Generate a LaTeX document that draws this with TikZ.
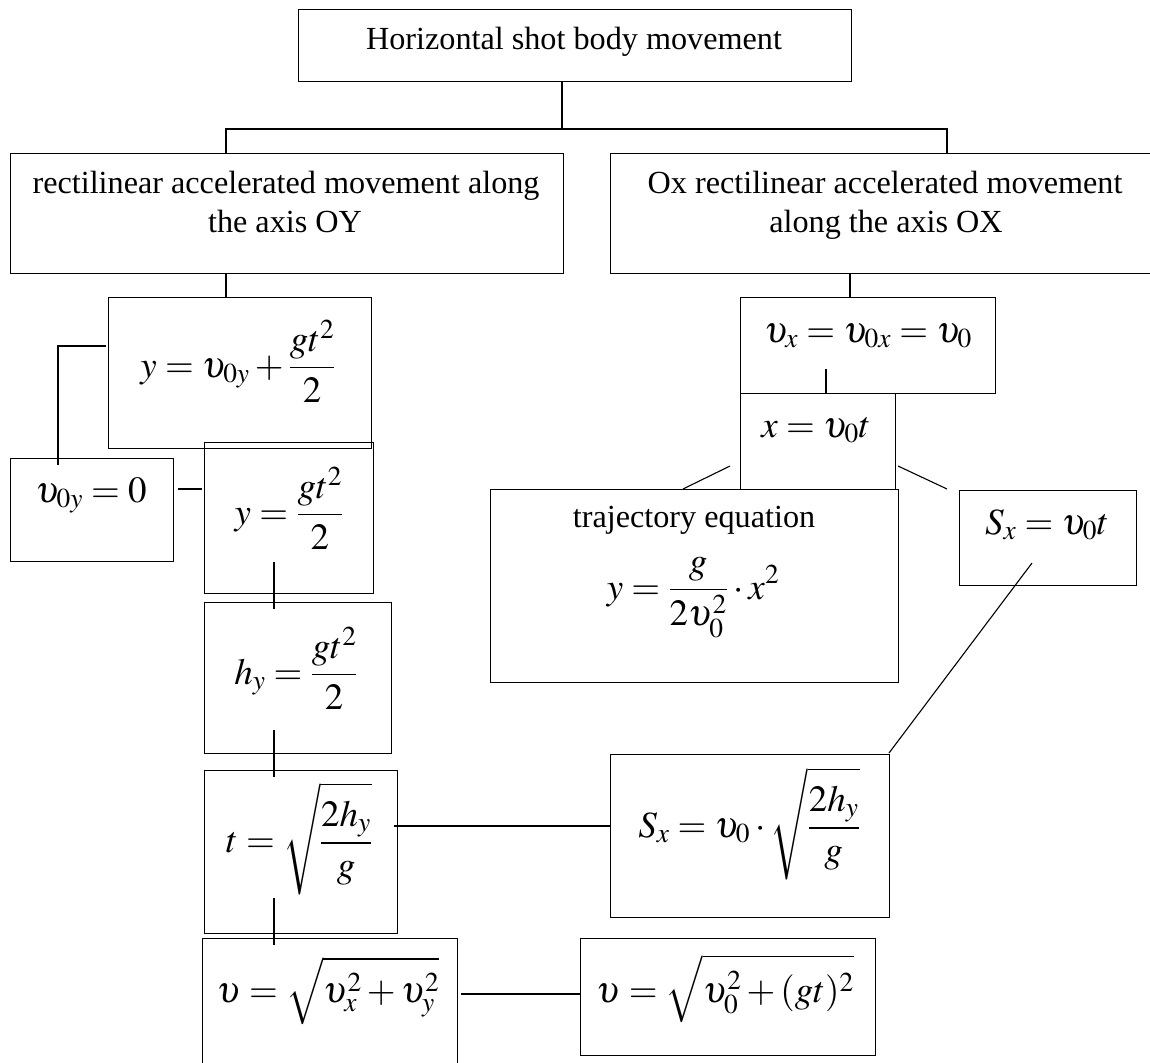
\documentclass[tikz,border=0pt]{standalone}
\usepackage{mathptmx}
\usepackage{fontspec}
\setmainfont{Liberation Serif}
\tikzset{
  box/.style={draw, line width=1.4pt, anchor=north west, inner sep=0pt},
  link/.style={line width=1.1pt},
  txt/.style={anchor=base, inner sep=0pt, font=\fontsize{32.2}{39}\selectfont},
  eq/.style={anchor=base, inner sep=0pt, font=\fontsize{37}{44}\selectfont},
}
\begin{document}
\begin{tikzpicture}[x=1pt,y=-1pt]
\useasboundingbox (0,0) rectangle (1150,1062);
\fill[white] (0,0) rectangle (1150,1062);

% boxes
\node[box, minimum width=553pt, minimum height=72pt]  (top) at (298,9) {};
\node[box, minimum width=553pt, minimum height=120pt] (L)   at (10,153) {};
\node[box, minimum width=552pt, minimum height=120pt] (R)   at (610,153) {};
\node[box, minimum width=263pt, minimum height=151pt] (A)   at (108,297) {};
\node[box, minimum width=163pt, minimum height=103pt] (B)   at (10,458) {};
\node[box, minimum width=169pt, minimum height=151pt] (C)   at (204,442) {};
\node[box, minimum width=187pt, minimum height=151pt] (D)   at (204,602) {};
\node[box, minimum width=193pt, minimum height=163pt] (E)   at (204,770) {};
\node[box, minimum width=255pt, minimum height=137pt] (F)   at (202,938) {};
\node[box, minimum width=255pt, minimum height=96pt]  (G)   at (740,297) {};
\node[box, minimum width=155pt, minimum height=96pt]  (H)   at (740,393) {};
\node[box, minimum width=408pt, minimum height=193pt] (I)   at (490,489) {};
\node[box, minimum width=177pt, minimum height=95pt]  (J)   at (959,490) {};
\node[box, minimum width=279pt, minimum height=163pt] (K)   at (610,754) {};
\node[box, minimum width=295pt, minimum height=117pt] (M)   at (580,938) {};

% texts
\node[txt] (ttop) at (574,50) {Horizontal shot body movement};
\node[txt] (tL1) at (286,193) {rectilinear accelerated movement along};
\node[txt] (tL2) at (285,232) {the axis OY};
\node[txt] (tR1) at (885,193) {Ox rectilinear accelerated movement};
\node[txt] (tR2) at (886,232) {along the axis OX};
\node[txt] (tI) at (694,527) {trajectory equation};

% formulas
\node[eq] (fA) at (238,377) {$\displaystyle y=\upsilon_{0y}+\frac{gt^2}{2}$};
\node[eq] (fB) at (91,502) {$\displaystyle \upsilon_{0y}=0$};
\node[eq] (fC) at (289,524) {$\displaystyle y=\frac{gt^2}{2}$};
\node[eq] (fD) at (296,684) {$\displaystyle h_y=\frac{gt^2}{2}$};
\node[eq] (fE) at (299,852) {$\displaystyle t=\sqrt{\frac{2h_y}{g}}$};
\node[eq] (fF) at (328,1002) {$\displaystyle \upsilon=\sqrt{\upsilon_x^2+\upsilon_y^2}$};
\node[eq] (fG) at (868,342) {$\displaystyle \upsilon_x=\upsilon_{0x}=\upsilon_0$};
\node[eq] (fH) at (816,437) {$\displaystyle x=\upsilon_0 t$};
\node[eq] (fI) at (693,599) {$\displaystyle y=\frac{g}{2\upsilon_0^2}\cdot x^2$};
\node[eq] (fJ) at (1047,534) {$\displaystyle S_x=\upsilon_0 t$};
\node[eq] (fK) at (749,837) {$\displaystyle S_x=\upsilon_0\cdot\sqrt{\frac{2h_y}{g}}$};
\node[eq] (fM) at (725,1002) {$\displaystyle \upsilon=\sqrt{\upsilon_0^2+(gt)^2}$};

% connector coordinates
\coordinate (j1) at (562,129);
\coordinate (jL) at (226,129);
\coordinate (jR) at (947,129);
\coordinate (xR) at (850,0);
\coordinate (xG) at (826,369);
\coordinate (bUp) at (58,465);
\coordinate (bCorner) at (58,346);
\coordinate (bEnd) at (106,346);
\coordinate (bcA) at (178,489);
\coordinate (bcB) at (202,489);
\coordinate (v1a) at (274,562);
\coordinate (v1b) at (274,609);
\coordinate (v2a) at (274,730);
\coordinate (v2b) at (274,777);
\coordinate (v3a) at (274,898);
\coordinate (v3b) at (274,945);
\coordinate (hl1) at (730,466);
\coordinate (hl2) at (683,489);
\coordinate (hr1) at (898,466);
\coordinate (hr2) at (947,489);
\coordinate (js) at (1032,563);
\coordinate (ks) at (889,753);
\coordinate (ek1) at (394,826);
\coordinate (ek2) at (610,826);
\coordinate (fm1) at (461,994);
\coordinate (fm2) at (580,994);

% connectors
\draw[link] (top.south -| j1) -- (j1);
\draw[link] (L.north -| jL) -- (jL) -- (jR) -- (R.north -| jR);
\draw[link] (L.south -| jL) -- (A.north -| jL);
\draw[link] (R.south -| xR) -- (G.north -| xR);
\draw[link] (xG) -- (H.north -| xG);
\draw[link] (bUp) -- (bCorner) -- (bEnd);
\draw[link] (bcA) -- (bcB);
\draw[link] (v1a) -- (v1b);
\draw[link] (v2a) -- (v2b);
\draw[link] (v3a) -- (v3b);
\draw[link] (hl1) -- (hl2);
\draw[link] (hr1) -- (hr2);
\draw[link] (js) -- (ks);
\draw[link] (ek1) -- (ek2);
\draw[link] (fm1) -- (fm2);
\end{tikzpicture}
\end{document}
